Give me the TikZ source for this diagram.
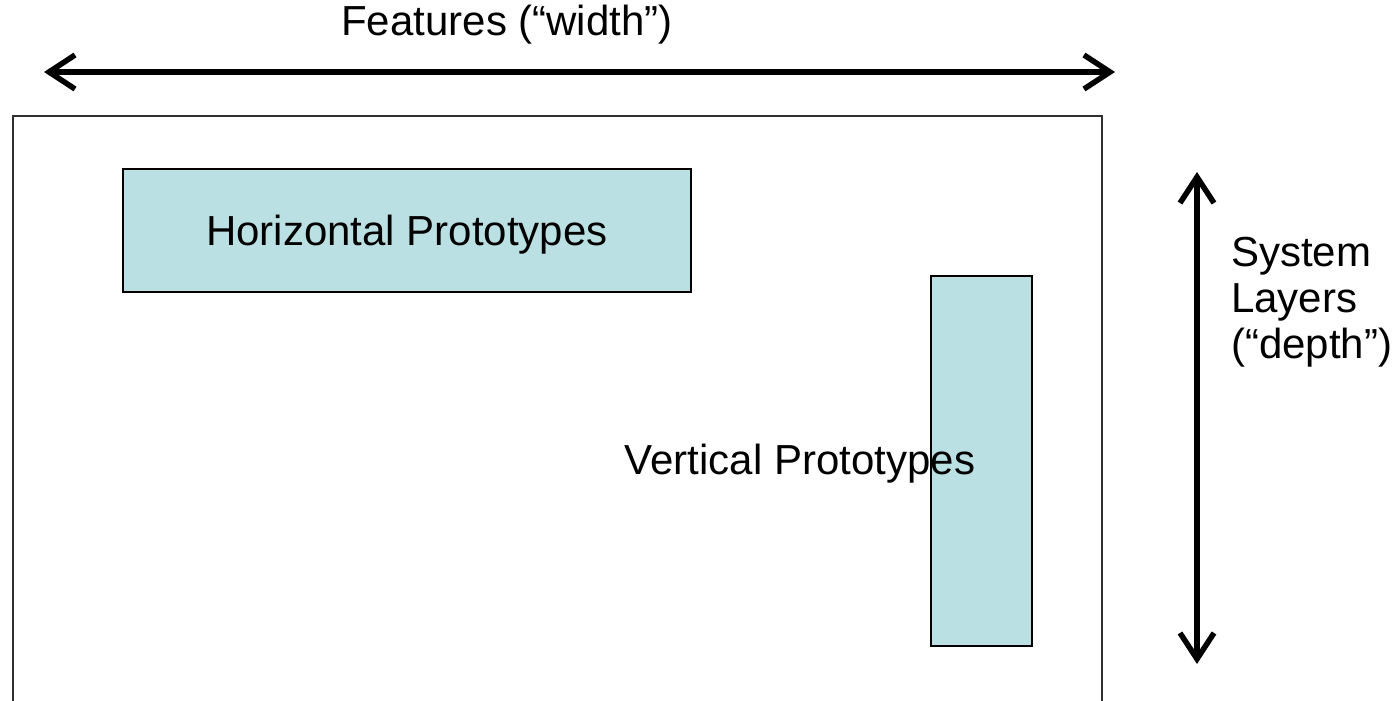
\documentclass[tikz,border=0pt]{standalone}
\usepackage{fontspec}
\setmainfont{Liberation Sans}
\usetikzlibrary{arrows.meta}
\definecolor{protofill}{HTML}{BBE0E3}
\definecolor{framegray}{HTML}{303030}
\tikzset{
  proto/.style={draw=black, line width=2pt, fill=protofill, inner sep=0pt},
  lbl/.style={font=\fontsize{42}{46}\selectfont, inner sep=0pt},
  dimarrow/.style={line width=5.5pt, {Straight Barb[length=26pt,width=34pt,line width=5.5pt]}-{Straight Barb[length=26pt,width=34pt,line width=5.5pt]}}
}
\begin{document}
\begin{tikzpicture}[x=1pt,y=-1pt]
\useasboundingbox (0,0) rectangle (1397,701);
\clip (0,0) rectangle (1397,701);
% frame
\node[draw=framegray, line width=2pt, minimum width=1089pt, minimum height=620pt, anchor=north west, inner sep=0pt] (frame) at (12,115) {};
% prototype boxes
\node[proto, minimum width=568pt, minimum height=123pt, anchor=north west] (hbox) at (122,168) {};
\node[lbl] (htext) at ([yshift=-4pt]hbox.center) {Horizontal Prototypes};
\node[proto, minimum width=101pt, minimum height=370pt, anchor=north west] (vbox) at (930,275) {};
\node[lbl] (vtext) at (800,464) {Vertical Prototypes};
% width arrow
\coordinate (wl) at (44,72);
\coordinate (wr) at (1115,72);
\draw[dimarrow] (wl) -- (wr);
\node[lbl, anchor=base] (wtext) at (507,36) {Features (“width”)};
% depth arrow
\coordinate (dt) at (1197,172);
\coordinate (db) at (1197,664);
\draw[dimarrow] (dt) -- (db);
\node[lbl, align=left, anchor=west] (dtext) at (1231,302) {System\\Layers\\(“depth”)};
\end{tikzpicture}
\end{document}
